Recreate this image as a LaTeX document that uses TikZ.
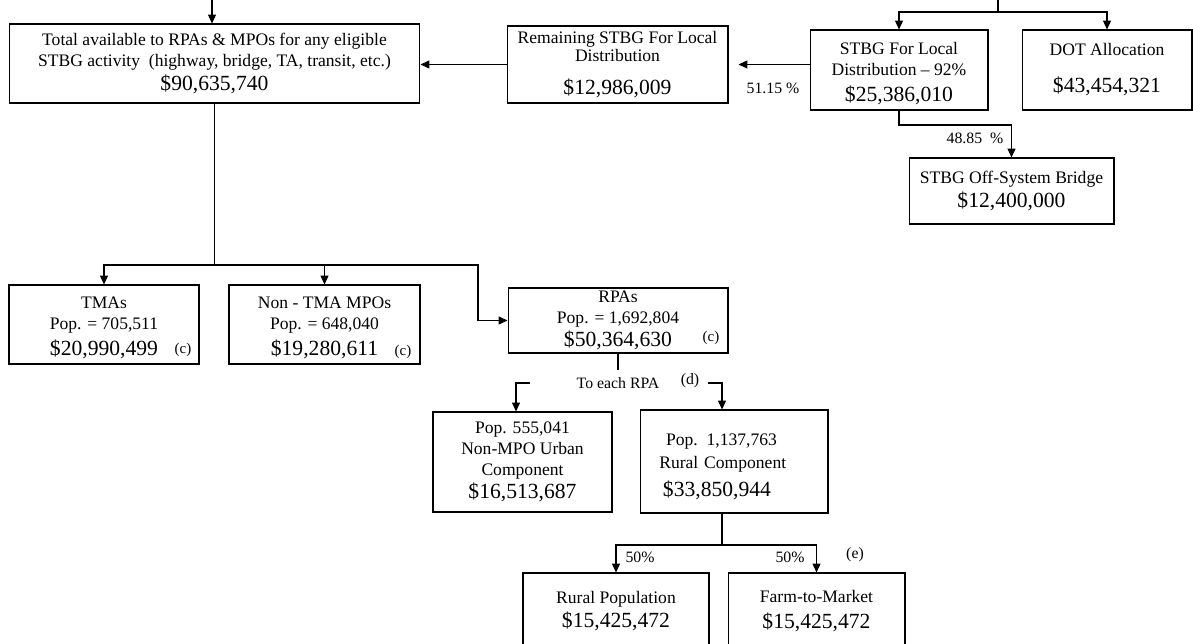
\documentclass[tikz,border=0pt]{standalone}
\usepackage{fontspec}
\setmainfont{Liberation Serif}
\usetikzlibrary{arrows.meta, positioning}

\newcommand{\amt}[1]{{\fontsize{12.3}{15}\selectfont #1}}

\begin{document}
\begin{tikzpicture}[
    x=0.02cm, y=-0.02cm,
    line width=0.6pt,
    >={Triangle[length=5pt, width=4.5pt]},
    box/.style={draw, rectangle, align=center, inner sep=1pt, font=\fontsize{10}{12}\selectfont},
    lbl/.style={inner sep=0pt, font=\fontsize{9}{11}\selectfont},
    cnote/.style={inner sep=0pt, font=\fontsize{8.5}{10}\selectfont}
]
\useasboundingbox (0,0) rectangle (1193,644);

% top row
\node[box, minimum width=8.22cm, minimum height=1.58cm] (total) at (214.5,63.5)
    {Total available to RPAs \& MPOs for any eligible\\
     STBG activity~ (highway, bridge, TA, transit, etc.)\\[2pt]
     \amt{\$90,635,740}};
\node[box, minimum width=4.42cm, minimum height=1.54cm] (remain) at (617.5,64.5)
    {Remaining STBG For Local\\[-2pt] Distribution\\[7pt] \amt{\$12,986,009}};
\node[box, minimum width=3.56cm, minimum height=1.6cm] (stbg) at (899,70)
    {\rule{0pt}{11pt}STBG For Local\\ Distribution -- 92\%\\[2.5pt] \amt{\$25,386,010}};
\node[box, minimum width=3.4cm, minimum height=1.6cm] (dot) at (1107,70)
    {DOT Allocation\\[9pt] \amt{\$43,454,321}};
\node[box, minimum width=4.1cm, minimum height=1.32cm] (offsys) at (1011.5,191)
    {STBG Off-System Bridge\\[2pt] \amt{\$12,400,000}};

% middle row
\node[box, minimum width=3.8cm, minimum height=1.58cm] (tmas) at (104,324.5)
    {\rule{0pt}{10.5pt}TMAs\\ Pop. = 705,511\\[3pt] \amt{\$20,990,499}};
\node[box, minimum width=3.82cm, minimum height=1.58cm] (nontma) at (324.5,324.5)
    {\rule{0pt}{10.5pt}Non - TMA MPOs\\ Pop. = 648,040\\[3pt] \amt{\$19,280,611}};
\node[box, minimum width=4.4cm, minimum height=1.3cm] (rpas) at (618,320.5)
    {RPAs\\[0pt] Pop. = 1,692,804\\[1pt] \amt{\$50,364,630}};
\node[cnote] (ctma) at (183,350) {(c)};
\node[cnote] (cnontma) at (403,352) {(c)};
\node[cnote] (crpa) at (711,338) {(c)};

% RPA split
\node[box, minimum width=3.58cm, minimum height=2cm] (nonmpo) at (522.5,462)
    {Pop. 555,041\\ Non-MPO Urban\\ Component\\[1pt] \amt{\$16,513,687}};
\node[box, text width=3.5cm, minimum width=3.76cm, minimum height=2.06cm] (rural) at (734,461.5)
    {\rule{0pt}{12.5pt}Pop. 1,137,763\rule{0.5cm}{0pt}\\[1pt]
     Rural Component\rule{0.45cm}{0pt}\\[4pt]
     \amt{\$33,850,944}\rule{0.68cm}{0pt}};
\node[lbl] (eachrpa) at (618,383) {To each RPA};
\node[lbl] (dnote) at (690,381) {(d)};

% bottom row
\node[box, minimum width=3.72cm, minimum height=1.52cm] (ruralpop) at (616,611)
    {Rural Population\\[2pt] \amt{\$15,425,472}};
\node[box, minimum width=3.54cm, minimum height=1.52cm] (farm) at (816.5,611)
    {Farm-to-Market\\[3pt] \amt{\$15,425,472}};

% labels
\node[lbl] (pct1) at (773,88) {51.15 \%};
\node[lbl] (pct2) at (975,138) {48.85~ \%};
\node[lbl] (half1) at (640,557) {50\%};
\node[lbl] (half2) at (790,557) {50\%};
\node[lbl] (enote) at (855,555) {(e)};

% junction points
\coordinate (feed) at (212,0);
\coordinate (feeddot) at (998,0);
\coordinate (dotsplit) at (998,12);
\coordinate (offturn) at (899,125);
\coordinate (mposplit) at (214.5,265);
\coordinate (rpaturn) at (478,320.5);
\coordinate (rpastem) at (618,370);
\coordinate (lstart) at (530,383);
\coordinate (lturn) at (516,383);
\coordinate (rstart) at (708,383);
\coordinate (rturn) at (722,383);
\coordinate (farmsplit) at (722,545);

% connectors
\draw[->] (feed) -- (feed |- total.north);
\draw (feeddot) -- (dotsplit);
\draw[->] (dotsplit) -| (stbg.north);
\draw[->] (dotsplit) -| (dot.north);
\draw[->, shorten >=10*0.02cm] (remain.east -| stbg.west) -- (remain.east);
\draw[->] (remain.west) -- (remain.west -| total.east);
\draw[->] (stbg.south) -- (offturn) -| (offsys.north);
\draw (total.south) -- (mposplit);
\draw[->] (mposplit) -| (tmas.north);
\draw[->] (mposplit) -| (nontma.north);
\draw[->] (mposplit) -| (rpaturn) -- (rpas.west);
\draw (rpas.south) -- (rpastem);
\draw[->] (lstart) -- (lturn) -- (lturn |- nonmpo.north);
\draw[->] (rstart) -- (rturn) -- (rturn |- rural.north);
\draw (farmsplit |- rural.south) -- (farmsplit);
\draw[->] (farmsplit) -| (ruralpop.north);
\draw[->] (farmsplit) -| (farm.north);
\end{tikzpicture}
\end{document}
